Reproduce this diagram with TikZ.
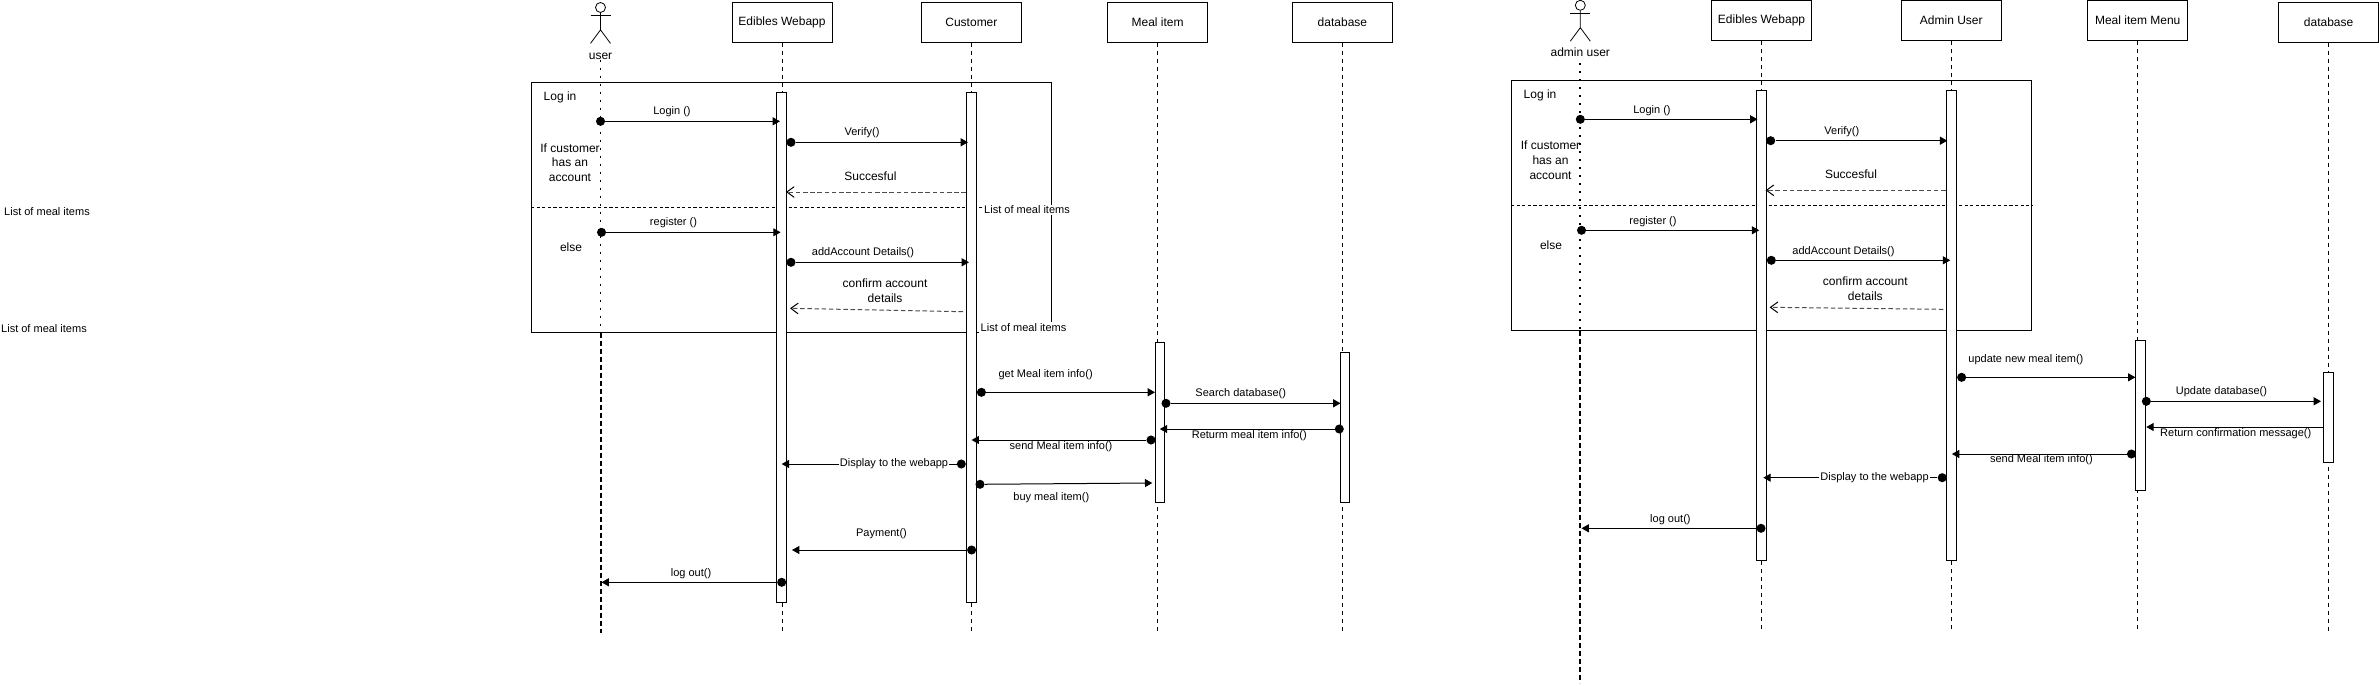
\documentclass[tikz,border=0pt]{standalone}
\usepackage{fontspec}
\setmainfont{Liberation Sans}
\usetikzlibrary{arrows.meta, positioning, shapes}
\tikzset{
  headbox/.style={draw, line width=0.75pt, fill=white, minimum width=75pt, minimum height=30pt, inner sep=0pt, font=\fontsize{9}{11}\selectfont},
  actbar/.style={draw, line width=0.75pt, fill=white, minimum width=7.4pt, minimum height=#1*0.75pt, inner sep=0pt},
  framebox/.style={draw, line width=0.75pt, minimum width=390pt, minimum height=187.5pt, inner sep=0pt},
  divider/.style={line width=0.7pt, dash pattern=on 2.4pt off 1.8pt},
  lifeline/.style={line width=0.5pt, dash pattern=on 3pt off 3pt},
  userdots/.style={line width=1.3pt, dash pattern=on 1.5pt off 4.5pt},
  userdash/.style={line width=1.5pt, dash pattern=on 3.75pt off 2.25pt},
  actorhead/.style={circle, draw, line width=0.6pt, minimum size=7.5pt, inner sep=0pt},
  actorline/.style={line width=0.6pt},
  msgdot/.style={circle, fill=black, minimum size=6.8pt, inner sep=0pt},
  msgline/.style={line width=0.75pt, -{Triangle[length=5.5pt, width=6pt]}},
  replyline/.style={line width=0.75pt, black!70, dash pattern=on 3.4pt off 2pt, -{Straight Barb[length=5.5pt, width=8pt, black]}},
  msglabel/.style={inner sep=0pt, font=\fontsize{8.25}{10}\selectfont},
  notelabel/.style={inner sep=0pt, align=center, font=\fontsize{9}{10.9}\selectfont},
  sidelabel/.style={fill=white, inner sep=1pt, font=\fontsize{8.25}{10}\selectfont}
}

\begin{document}
\begin{tikzpicture}[x=0.75pt, y=-0.75pt]
  \useasboundingbox (0,0) rectangle (2379,685);

  % Side labels
  \node[sidelabel] (sidea) at (47,212) {List of meal items};
  \node[sidelabel] (sideb) at (44,329) {List of meal items};

  % ---- Customer diagram ----
  % Frame
  \node[framebox] (framea) at (791.5,207.3) {};
  \draw[divider] (framea.west) -- (framea.east);
  \node[sidelabel] (listaa) at (1027,210) {List of meal items};
  \node[sidelabel] (listab) at (1023.5,327.5) {List of meal items};

  % Actor
  \node[actorhead] (heada) at (600.5,7.5) {};
  \draw[actorline] (heada.south) -- ++(0,17) -- ++(-10,13.5) ++(10,-13.5) -- ++(10,13.5);
  \draw[actorline] (heada.south) ++(-10,3) -- ++(20,0);
  \node[notelabel] (usera) at (600.5,56) {user};
  \coordinate (usermida) at (600.5,333);
  \coordinate (userenda) at (600.5,633);
  \draw[userdots] (usera.south) -- (usermida);
  \draw[userdash] (usermida) -- (userenda);

  % Lifelines
  \node[headbox] (webappa) at (782,22.5) {Edibles Webapp};
  \node[headbox] (customera) at (971.4,22.5) {Customer};
  \node[headbox] (meala) at (1157.6,22.5) {Meal item};
  \node[headbox] (dba) at (1342.4,22.5) {database};
  \coordinate (webappenda) at (782,632.7);
  \coordinate (customerenda) at (971.4,632.7);
  \coordinate (mealenda) at (1157.6,632.7);
  \coordinate (dbenda) at (1342.4,632.7);
  \draw[lifeline] (webappa) -- (webappenda);
  \draw[lifeline] (customera) -- (customerenda);
  \draw[lifeline] (meala) -- (mealenda);
  \draw[lifeline] (dba) -- (dbenda);

  % Bars
  \node[actbar=510] (webappbara) at (781.7,347.3) {};
  \node[actbar=510] (customerbara) at (971.4,347.3) {};
  \node[actbar=160] (mealbara) at (1160,422.3) {};
  \node[actbar=150] (dbbara) at (1345,427.3) {};

  % Notes
  \node[notelabel] (logina) at (560,97) {Log in};
  \node[notelabel] (ifa) at (570,162.5) {If customer\\has an\\account};
  \node[notelabel] (elsea) at (571,247) {else};

  % Messages
  \node[msgdot] (la) at (600.5,121.3) {};
  \coordinate (lta) at (780,121.3);
  \draw[msgline] (la) -- (lta);
  \node[msglabel] at (672,112) {Login ()};

  \node[msgdot] (va) at (791,142.3) {};
  \coordinate (vta) at (968,142.3);
  \draw[msgline] (va) -- (vta);
  \node[msglabel] at (862,133) {Verify()};

  \coordinate (sa) at (966,192);
  \coordinate (sta) at (786,192);
  \draw[replyline] (sa) -- (sta);
  \node[notelabel] at (870.4,176.7) {Succesful};

  \node[msgdot] (ra) at (601.5,232.3) {};
  \coordinate (rta) at (780.6,232.3);
  \draw[msgline] (ra) -- (rta);
  \node[msglabel] at (673.5,223) {register ()};

  \node[msgdot] (aa) at (791,262.3) {};
  \coordinate (ata) at (969,262.3);
  \draw[msgline] (aa) -- (ata);
  \node[msglabel] at (863,253) {addAccount Details()};

  \coordinate (ca) at (963,311.7);
  \coordinate (cta) at (790,308.3);
  \draw[replyline] (ca) -- (cta);
  \node[notelabel] at (885,290.5) {confirm account\\details};

  \node[msgdot] (ga) at (981.4,392.3) {};
  \coordinate (gta) at (1155,392.3);
  \draw[msgline] (ga) -- (gta);
  \node[msglabel] at (1045.6,374.3) {get Meal item info()};

  \node[msgdot] (qa) at (1166,403.3) {};
  \coordinate (qta) at (1340.5,403.3);
  \draw[msgline] (qa) -- (qta);
  \node[msglabel] at (1240.7,393.3) {Search database()};

  \node[msgdot] (ba) at (1339.3,429) {};
  \coordinate (bta) at (1159.8,429);
  \draw[msgline] (ba) -- (bta);
  \node[msglabel] at (1249.3,435.3) {Returm meal item info()};

  \node[msgdot] (ea) at (1151,440) {};
  \coordinate (eta) at (971.6,440);
  \draw[msgline] (ea) -- (eta);
  \node[msglabel] at (1061,446.3) {send Meal item info()};

  \node[msgdot] (da) at (961.3,464) {};
  \coordinate (dta) at (781.7,464);
  \draw[msgline] (da) -- (dta);
  \node[msglabel, fill=white, inner sep=1pt] at (894,463.5) {Display to the webapp};

  \node[msgdot] (ua) at (980,484.3) {};
  \coordinate (uta) at (1152.3,483);
  \draw[msgline] (ua) -- (uta);
  \node[msglabel] at (1051.3,497.7) {buy meal item()};

  \node[msgdot] (pa) at (971.6,550) {};
  \coordinate (pta) at (792,550);
  \draw[msgline] (pa) -- (pta);
  \node[msglabel] at (881.5,533.3) {Payment()};

  \node[msgdot] (oa) at (781.7,582.3) {};
  \coordinate (ota) at (601.5,582.3);
  \draw[msgline] (oa) -- (ota);
  \node[msglabel] at (691,573.3) {log out()};

  % ---- Admin diagram ----
  % Frame
  \node[framebox] (frameb) at (1771.5,205.3) {};
  \draw[divider] (frameb.west) -- (frameb.east);

  % Actor
  \node[actorhead] (headb) at (1580.3,5.3) {};
  \draw[actorline] (headb.south) -- ++(0,17) -- ++(-10,13.5) ++(10,-13.5) -- ++(10,13.5);
  \draw[actorline] (headb.south) ++(-10,3) -- ++(20,0);
  \node[notelabel] (userb) at (1580.3,52.7) {admin user};
  \coordinate (usermidb) at (1580.3,331);
  \coordinate (userendb) at (1580.3,683);
  \draw[userdots] (userb.south) ++(0,6) -- (usermidb);
  \draw[userdash] (usermidb) -- (userendb);

  % Lifelines
  \node[headbox] (webappb) at (1761.5,20.5) {Edibles Webapp};
  \node[headbox] (adminb) at (1951.3,20.5) {Admin User};
  \node[headbox] (mealb) at (2137.7,20.5) {Meal item Menu};
  \node[headbox] (dbb) at (2328.6,22.5) {database};
  \coordinate (webappendb) at (1761.5,630.7);
  \coordinate (adminendb) at (1951.3,630.7);
  \coordinate (mealendb) at (2137.7,630.7);
  \coordinate (dbendb) at (2328.6,632.7);
  \draw[lifeline] (webappb) -- (webappendb);
  \draw[lifeline] (adminb) -- (adminendb);
  \draw[lifeline] (mealb) -- (mealendb);
  \draw[lifeline] (dbb) -- (dbendb);

  % Bars
  \node[actbar=470] (webappbarb) at (1761.3,325.3) {};
  \node[actbar=470] (adminbarb) at (1951.5,325.3) {};
  \node[actbar=150] (mealbarb) at (2140.5,415.3) {};
  \node[actbar=90] (dbbarb) at (2328.6,417.3) {};

  % Notes
  \node[notelabel] (loginb) at (1540,95) {Log in};
  \node[notelabel] (ifb) at (1550.5,160.2) {If customer\\has an\\account};
  \node[notelabel] (elseb) at (1551,245) {else};

  % Messages
  \node[msgdot] (lb) at (1580.3,119.3) {};
  \coordinate (ltb) at (1757.5,119.3);
  \draw[msgline] (lb) -- (ltb);
  \node[msglabel] at (1652,110.3) {Login ()};

  \node[msgdot] (vb) at (1770.7,140.7) {};
  \coordinate (vtb) at (1947.3,140.7);
  \draw[msgline] (vb) -- (vtb);
  \node[msglabel] at (1841.8,131.3) {Verify()};

  \coordinate (sb) at (1945.6,190.3);
  \coordinate (stb) at (1765.6,190.3);
  \draw[replyline] (sb) -- (stb);
  \node[notelabel] at (1851,174.7) {Succesful};

  \node[msgdot] (rb) at (1581.5,230.3) {};
  \coordinate (rtb) at (1759.2,230.3);
  \draw[msgline] (rb) -- (rtb);
  \node[msglabel] at (1653,221.7) {register ()};

  \node[msgdot] (ab) at (1771.3,260.3) {};
  \coordinate (atb) at (1950.2,260.3);
  \draw[msgline] (ab) -- (atb);
  \node[msglabel] at (1843.5,251.3) {addAccount Details()};

  \coordinate (cb) at (1943.3,309.3);
  \coordinate (ctb) at (1769.6,307.3);
  \draw[replyline] (cb) -- (ctb);
  \node[notelabel] at (1865.3,288.5) {confirm account\\details};

  \node[msgdot] (gb) at (1961.6,377.3) {};
  \coordinate (gtb) at (2135.4,377.3);
  \draw[msgline] (gb) -- (gtb);
  \node[msglabel] at (2025.9,359.3) {update new meal item()};

  \node[msgdot] (qb) at (2146.3,401.3) {};
  \coordinate (qtb) at (2321,401.3);
  \draw[msgline] (qb) -- (qtb);
  \node[msglabel] at (2221.4,391.3) {Update database()};

  \coordinate (bb) at (2323,427);
  \coordinate (btb) at (2146.3,427);
  \draw[msgline] (bb) -- (btb);
  \node[msglabel] at (2235.7,433.3) {Return confirmation message()};

  \node[msgdot] (eb) at (2131.4,454) {};
  \coordinate (etb) at (1951.9,454);
  \draw[msgline] (eb) -- (etb);
  \node[msglabel] at (2041.4,460) {send Meal item info()};

  \node[msgdot] (db) at (1942.2,477.7) {};
  \coordinate (dtb) at (1763.3,477.7);
  \draw[msgline] (db) -- (dtb);
  \node[msglabel, fill=white, inner sep=1pt] at (1874.5,477.3) {Display to the webapp};

  \node[msgdot] (ob) at (1761,528.3) {};
  \coordinate (otb) at (1581.5,528.3);
  \draw[msgline] (ob) -- (otb);
  \node[msglabel] at (1670.4,519.3) {log out()};
\end{tikzpicture}
\end{document}
